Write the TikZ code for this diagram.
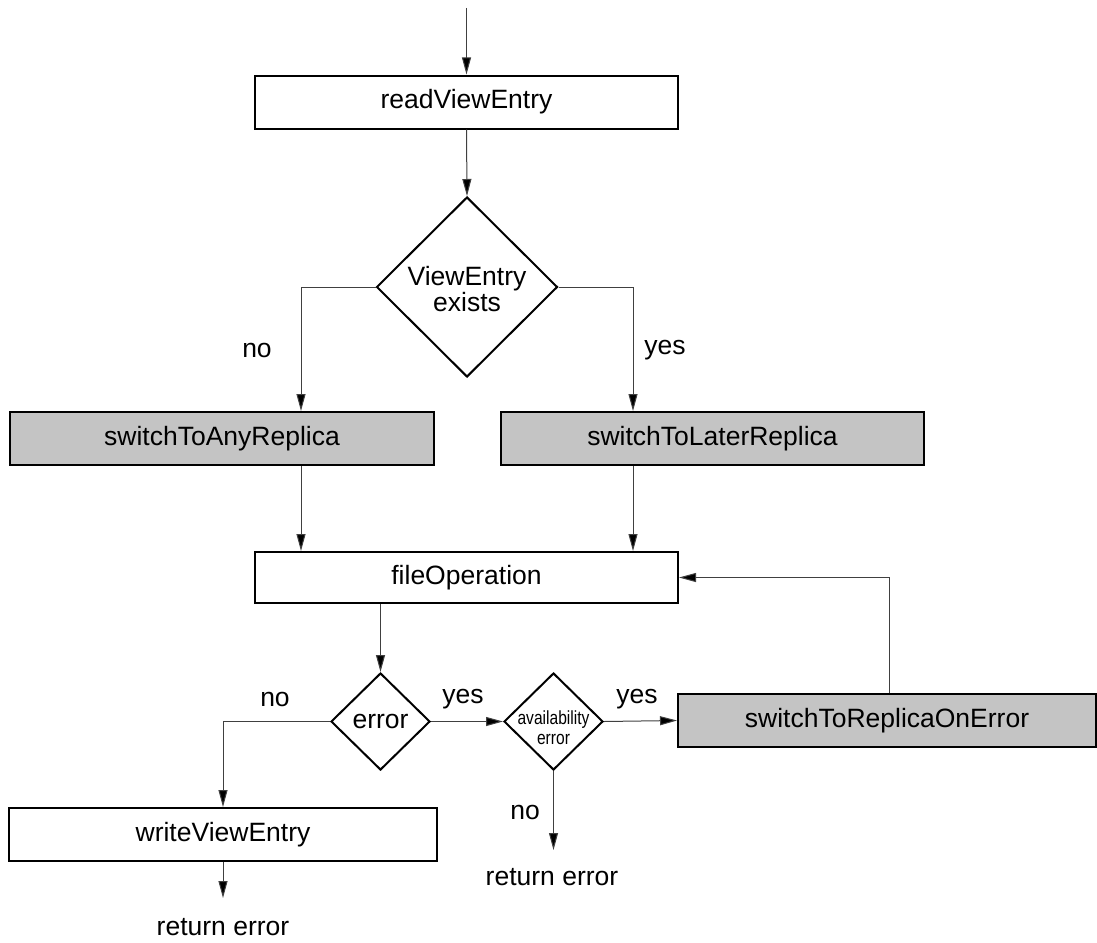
\documentclass[tikz,border=0pt]{standalone}
\usepackage{fontspec}
\usepackage{graphicx}
\setmainfont{Liberation Sans}
\usetikzlibrary{shapes.geometric,arrows.meta}
\definecolor{boxgray}{RGB}{196,196,196}
\tikzset{
  box/.style={draw=black, line width=2pt, rectangle, inner sep=0pt, minimum height=53pt, font=\fontsize{26.5}{26}\selectfont},
  graybox/.style={box, fill=boxgray},
  dia/.style={draw=black, line width=2pt, diamond, inner sep=0pt},
  txt/.style={inner sep=0pt, font=\fontsize{26.5}{26}\selectfont, align=center},
  conn/.style={draw=black!75, line width=1pt, -{Triangle[length=17pt,width=9pt,fill=black]}},
  plain/.style={draw=black!75, line width=1pt}
}
\begin{document}
\begin{tikzpicture}[x=1pt,y=-1pt]
\useasboundingbox (0,0) rectangle (1097,942);
% boxes
\node[box, minimum width=423pt] (rve) at (466.5,102) {readViewEntry};
\node[dia, minimum width=181pt, minimum height=180pt] (ve) at (467,287) {};
\node[txt] (vetext) at (467,289) {ViewEntry\\exists};
\node[graybox, minimum width=424pt] (anyR) at (222,438.5) {switchToAnyReplica};
\node[graybox, minimum width=423pt] (laterR) at (712.5,438.5) {switchToLaterReplica};
\node[box, minimum width=423pt, minimum height=51pt] (fo) at (466.5,577.5) {fileOperation};
\node[dia, minimum width=99pt, minimum height=97pt] (err) at (380.5,721.5) {};
\node[txt] (errtext) at (380.5,721.5) {error};
\node[dia, minimum width=99pt, minimum height=97pt] (av) at (553.5,721.5) {};
\node[inner sep=0pt, align=center, font=\fontsize{19}{20}\selectfont] (avtext) at (553.5,728)
  {\scalebox{0.82}[1]{availability}\\\scalebox{0.82}[1]{error}};
\node[graybox, minimum width=418pt] (sre) at (887,720.5) {switchToReplicaOnError};
\node[box, minimum width=428pt] (wve) at (223,834.5) {writeViewEntry};
\node[txt] (re1) at (223,927) {return error};
\node[txt] (re2) at (552,877) {return error};
% labels
\node[txt] (l1) at (257,350) {no};
\node[txt] (l2) at (665,350) {yes};
\node[txt] (l3) at (275,699) {no};
\node[txt] (l4) at (463,699) {yes};
\node[txt] (l5) at (637,699) {yes};
\node[txt] (l6) at (525,812) {no};
% helper coordinates
\coordinate (start) at (466.5,8);
\coordinate (xa) at (301,0);
\coordinate (xb) at (633,0);
\coordinate (xc) at (380.5,0);
\coordinate (xd) at (889,0);
\coordinate (end1) at (223,898);
\coordinate (end2) at (553.5,850);
% connectors
\draw[conn] (start) -- (rve.north);
\draw[conn] (rve.south) -- (ve.north);
\draw[conn] (ve.west) -| (xa |- anyR.north);
\draw[conn] (ve.east) -| (xb |- laterR.north);
\draw[conn] (xa |- anyR.south) -- (xa |- fo.north);
\draw[conn] (xb |- laterR.south) -- (xb |- fo.north);
\draw[conn] (xc |- fo.south) -- (err.north);
\draw[conn] (err.west) -| (wve.north);
\draw[conn] (err.east) -- (av.west);
\draw[conn] (av.east) -- (sre.west);
\draw[conn] (xd |- sre.north) |- (fo.east);
\draw[conn] (av.south) -- (end2);
\draw[conn] (wve.south) -- (end1);
\end{tikzpicture}
\end{document}
